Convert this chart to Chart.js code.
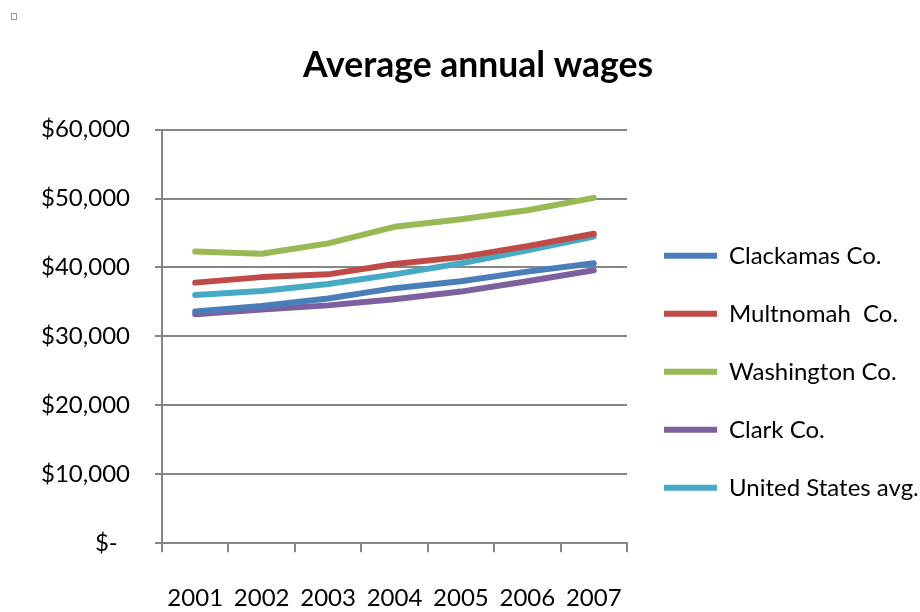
<!DOCTYPE HTML>
<html>
  <head>
    <script src="https://cdn.jsdelivr.net/npm/chart.js"></script>
    <style>
      body { margin: 0; background: #fff; }
      #handle { position: absolute; left: 11px; top: 13px; width: 4px; height: 5px; border: 1px solid #9a9a9a; }
    </style>
  </head>
  <body>
    <div id="handle"></div>
    <div style="position: relative; width: 920px; height: 612px;">
      <canvas id="wage-chart"></canvas>
    </div>

    <script>
      const years = ['2001', '2002', '2003', '2004', '2005', '2006', '2007'];
      const clackamas = [33600, 34400, 35500, 37000, 38000, 39400, 40600];
      const multnomah = [37800, 38600, 39000, 40500, 41500, 43100, 44900];
      const washington = [42300, 42000, 43500, 45900, 47000, 48300, 50100];
      const clark = [33200, 33900, 34500, 35400, 36500, 38000, 39600];
      const us_avg = [36000, 36600, 37600, 39000, 40600, 42500, 44500];

      function series(label, data, color) {
        return {
          label: label,
          data: data,
          borderColor: color,
          backgroundColor: color,
          borderWidth: 6,
          borderCapStyle: 'round',
          borderJoinStyle: 'round',
          pointRadius: 0,
          tension: 0
        };
      }

      function draw() {
        Chart.defaults.font.family = 'Lato';
        Chart.defaults.color = '#000';

        const wage_context = document.getElementById("wage-chart");
        wage_chart = new Chart(wage_context, {
          type: 'line',
          data: {
            labels: years,
            datasets: [
              series('Clackamas Co.', clackamas, '#4a7ebb'),
              series('Multnomah  Co.', multnomah, '#be4b48'),
              series('Washington Co.', washington, '#98b954'),
              series('Clark Co.', clark, '#7d60a0'),
              series('United States avg.', us_avg, '#46aac5')
            ]
          },
          options: {
            responsive: true,
            maintainAspectRatio: false,
            animation: false,
            layout: { padding: { left: 36, right: 0, top: 0, bottom: -33 } },
            plugins: {
              title: {
                display: true,
                text: 'Average annual wages',
                font: { size: 35.5, weight: 'bold' },
                padding: { top: 44, bottom: 43 }
              },
              legend: {
                position: 'right',
                align: 'start',
                maxWidth: 290,
                title: { display: true, text: ' ', padding: { top: 181, bottom: 0 }, font: { size: 24 } },
                labels: {
                  usePointStyle: true,
                  pointStyle: 'line',
                  pointStyleWidth: 53,
                  padding: 34,
                  font: { size: 24 }
                }
              },
              tooltip: { enabled: false }
            },
            scales: {
              x: {
                offset: true,
                grid: {
                  offset: true,
                  drawOnChartArea: false,
                  tickLength: 9,
                  color: '#868686',
                  lineWidth: 2
                },
                border: { color: '#868686', width: 2 },
                ticks: { padding: 32, font: { size: 24 } }
              },
              y: {
                min: 0,
                max: 60000,
                afterFit: function(scale) { scale.width = 126; },
                grid: { tickLength: 7, color: '#868686', lineWidth: 2 },
                border: { color: '#868686', width: 2 },
                ticks: {
                  stepSize: 10000,
                  padding: 25,
                  font: { size: 24 },
                  callback: function(v) {
                    return v === 0 ? '$-  ' : '$' + v.toLocaleString('en-US');
                  }
                }
              },
              // empty right-hand axis, only keeps a little room before the legend
              y_gap: {
                position: 'right',
                afterFit: function(scale) { scale.width = 3; },
                grid: { display: false },
                border: { display: false },
                ticks: { display: false }
              }
            }
          }
        });
      }

      Promise.all([
        document.fonts.load('24px Lato'),
        document.fonts.load('bold 35px Lato')
      ]).then(draw, draw);
    </script>
  </body>
</html>
